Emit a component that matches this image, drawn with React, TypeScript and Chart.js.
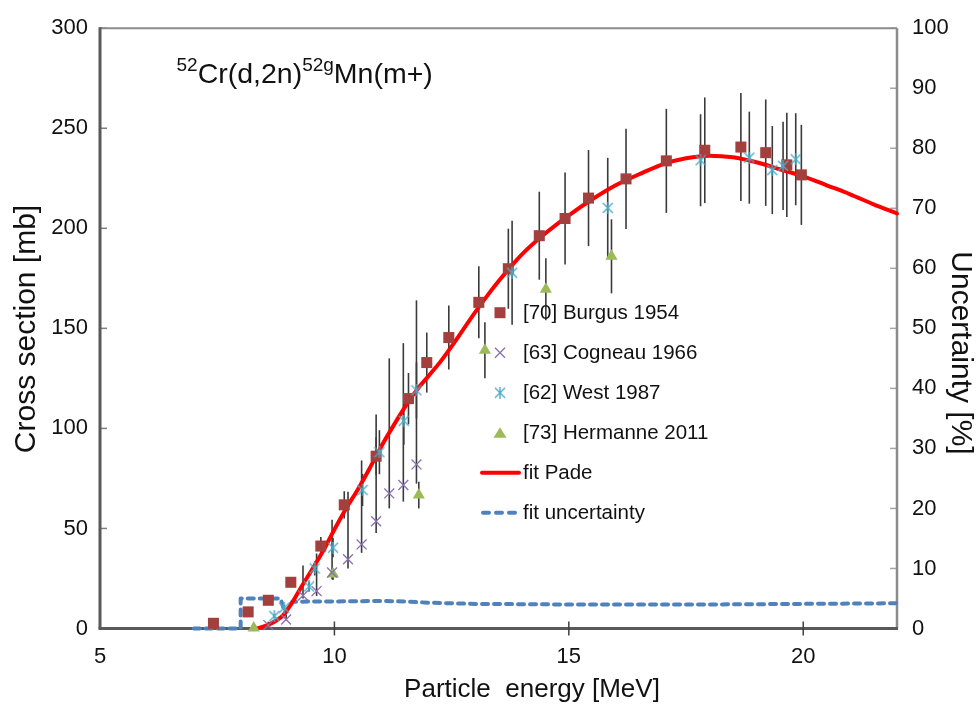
import React, { useEffect, useRef } from 'react';
import { Chart, registerables } from 'chart.js';

Chart.register(...registerables);

// ---------- data ----------
const burgusE = [7.42, 8.16, 8.59, 9.07, 9.71, 10.21, 10.89, 11.58, 11.97, 12.44, 13.08, 13.71, 14.37, 14.92, 15.42, 16.22, 17.08, 17.9, 18.67, 19.2, 19.65, 19.96];
const burgusXS = [2.6, 8.3, 14.1, 23.1, 41.2, 61.8, 86.1, 114.9, 132.9, 145.4, 163.0, 179.8, 196.3, 204.9, 215.1, 224.7, 233.7, 239.0, 240.6, 237.8, 231.7, 226.7];
const burgusErr = [0.3, 0.9, 1.6, 2.5, 4.5, 6.8, 9.5, 12.8, 15, 16, 18, 20, 22, 23, 24, 25, 26, 26.4, 27, 26.6, 26, 25];

const cogneauE = [8.59, 8.97, 9.33, 9.62, 9.95, 10.29, 10.58, 10.89, 11.17, 11.47, 11.75];
const cogneauXS = [1.7, 4.5, 16.5, 18.7, 28.0, 34.6, 42.0, 53.6, 67.5, 71.7, 82.0];
const cogneauErrLow = [0.2, 0.5, 1.5, 2.4, 3.4, 4.6, 4.2, 5.9, 7.5, 8.3, 9.6];
const cogneauErrHigh = [1.7, 4.5, 15, 18.8, 26.3, 33.7, 42, 53.4, 67.5, 70.9, 82];

const westE = [8.72, 8.93, 9.46, 9.58, 9.97, 10.6, 10.96, 11.48, 11.75, 13.79, 15.83, 17.81, 18.85, 19.34, 19.57, 19.84];
const westXS = [6.2, 10.4, 21.0, 30.0, 40.4, 69.2, 88.1, 103.8, 119.0, 177.8, 210.2, 234.0, 235.3, 229.1, 231.2, 234.5];
const westErr = [0.7, 1.2, 2.5, 3.5, 4.8, 8, 11, 12, 14, 26, 25, 23, 23, 22, 22, 23];

const hermanneE = [8.28, 9.97, 11.8, 13.21, 14.51, 15.91];
const hermanneXS = [0.3, 27.2, 66.7, 139.1, 169.5, 186.0];
const hermanneErr = [0, 3, 6.7, 14, 15.5, 18.5];

const padeE = [8.34, 8.6, 8.9, 9.1, 9.3, 9.55, 9.8, 10.0, 10.25, 10.5, 10.75, 11.0, 11.25, 11.5, 11.75, 12.0, 12.25, 12.5, 12.75, 13.0, 13.25, 13.5, 13.75, 14.0, 14.5, 15.0, 15.5, 16.0, 16.5, 17.0, 17.5, 18.0, 18.5, 19.0, 19.5, 20.0, 20.5, 21.0, 21.5, 22.0];
const padeXS = [0, 2, 6.5, 13, 21, 30.5, 40.5, 49.5, 60, 69.5, 80, 91, 101, 110.5, 119, 126, 133, 141, 149.5, 158, 166, 173.5, 180.5, 187, 197.5, 206.5, 214.5, 221.5, 227, 232, 235, 236.3, 235.5, 233, 229.5, 226, 221.5, 217, 212, 207.4];

const uncE = [7.0, 8.0, 8.0, 8.85, 8.95, 9.1, 9.5, 10, 10.5, 11, 11.5, 12, 12.5, 13, 14, 15, 16, 17, 18, 19, 20, 21, 22];
const uncPct = [0, 0, 5.0, 5.0, 2.5, 4.45, 4.5, 4.5, 4.55, 4.6, 4.5, 4.3, 4.2, 4.1, 4.05, 4.0, 4.0, 4.0, 4.0, 4.05, 4.1, 4.15, 4.2];

const legendLabels = ['[70] Burgus 1954', '[63] Cogneau 1966', '[62] West 1987', '[73] Hermanne 2011', 'fit Pade', 'fit uncertainty'];
const xTitle = 'Particle  energy [MeV]';
const yTitle = 'Cross section [mb]';
const y1Title = 'Uncertainty [%]';

// ---------- styles ----------
const FONT = '"Liberation Sans", Arial, Helvetica, sans-serif';
const C_BURGUS = '#A3403D';
const C_COGNEAU = '#8A70AE';
const C_WEST = '#4BACC6';
const C_HERMANNE = '#9BBB59';
const C_PADE = '#FF0000';
const C_UNC = '#4F81BD';
const TEXT = '#111111';

function pts(xs: number[], ys: number[]) {
  return xs.map((x, i) => ({ x, y: ys[i] }));
}

function makeAsterisk(color: string, size: number) {
  const c = document.createElement('canvas');
  c.width = size;
  c.height = size;
  const g = c.getContext('2d')!;
  g.strokeStyle = color;
  g.lineWidth = 1.4;
  const m = size / 2;
  const r = size / 2 - 1;
  g.beginPath();
  g.moveTo(m - r, m - r); g.lineTo(m + r, m + r);
  g.moveTo(m + r, m - r); g.lineTo(m - r, m + r);
  g.moveTo(m, 0); g.lineTo(m, size);
  g.stroke();
  return c;
}

export default function App() {
  const ref = useRef<HTMLCanvasElement>(null);

  useEffect(() => {
    const canvas = ref.current!;
    const asterisk = makeAsterisk(C_WEST, 12);

    const errorSeries = [
      { e: burgusE, v: burgusXS, lo: burgusErr, hi: burgusErr },
      { e: cogneauE, v: cogneauXS, lo: cogneauErrLow, hi: cogneauErrHigh },
      { e: westE, v: westXS, lo: westErr, hi: westErr },
      { e: hermanneE, v: hermanneXS, lo: hermanneErr, hi: hermanneErr },
    ];

    const framePlugin = {
      id: 'frame',
      beforeDatasetsDraw(chart: any) {
        const { ctx, chartArea: a, scales } = chart;
        ctx.save();
        ctx.lineCap = 'butt';
        ctx.strokeStyle = '#7f7f7f';
        ctx.lineWidth = 1.5;
        scales.y.ticks.forEach((t: any) => {
          const py = scales.y.getPixelForValue(t.value);
          ctx.beginPath(); ctx.moveTo(a.left, py); ctx.lineTo(a.left + 7, py); ctx.stroke();
        });
        ctx.strokeStyle = '#a6a6a6';
        scales.y1.ticks.forEach((t: any) => {
          const py = scales.y1.getPixelForValue(t.value);
          ctx.beginPath(); ctx.moveTo(a.right - 7, py); ctx.lineTo(a.right, py); ctx.stroke();
        });
        ctx.strokeStyle = '#8c8c8c';
        ctx.lineWidth = 2;
        ctx.beginPath(); ctx.moveTo(a.left, a.top); ctx.lineTo(a.right, a.top); ctx.stroke();
        ctx.lineWidth = 2.5;
        ctx.beginPath(); ctx.moveTo(a.right, a.top); ctx.lineTo(a.right, a.bottom); ctx.stroke();
        ctx.strokeStyle = '#595959';
        ctx.lineWidth = 3;
        ctx.beginPath(); ctx.moveTo(a.left, a.top - 1); ctx.lineTo(a.left, a.bottom); ctx.stroke();
        ctx.beginPath(); ctx.moveTo(a.left - 1.5, a.bottom); ctx.lineTo(a.right + 1, a.bottom); ctx.stroke();
        ctx.strokeStyle = '#404040';
        ctx.lineWidth = 1.5;
        scales.x.ticks.forEach((t: any) => {
          if (t.value === scales.x.min) return;
          const px = scales.x.getPixelForValue(t.value);
          ctx.beginPath(); ctx.moveTo(px, a.bottom - 7); ctx.lineTo(px, a.bottom + 7); ctx.stroke();
        });
        ctx.strokeStyle = '#3a3a3a';
        ctx.lineWidth = 1.6;
        errorSeries.forEach((s) => {
          s.e.forEach((e, i) => {
            const px = scales.x.getPixelForValue(e);
            const y1 = scales.y.getPixelForValue(s.v[i] - s.lo[i]);
            const y2 = scales.y.getPixelForValue(s.v[i] + s.hi[i]);
            ctx.beginPath(); ctx.moveTo(px, y1); ctx.lineTo(px, y2); ctx.stroke();
          });
        });
        ctx.restore();
      },
    };

    const overlayPlugin = {
      id: 'overlay',
      afterDraw(chart: any) {
        const { ctx } = chart;
        ctx.save();
        // axis titles
        ctx.fillStyle = TEXT;
        ctx.textAlign = 'center';
        ctx.textBaseline = 'middle';
        ctx.font = `26px ${FONT}`;
        ctx.fillText(xTitle, 532, 690);
        ctx.save();
        ctx.translate(27, 329);
        ctx.rotate(-Math.PI / 2);
        ctx.font = `30px ${FONT}`;
        ctx.fillText(yTitle, 0, 0);
        ctx.restore();
        ctx.save();
        ctx.translate(960, 353);
        ctx.rotate(Math.PI / 2);
        ctx.font = `30px ${FONT}`;
        ctx.fillText(y1Title, 0, 0);
        ctx.restore();
        // reaction title
        let x = 176.5;
        ctx.textBaseline = 'alphabetic';
        ctx.textAlign = 'left';
        const parts: [string, boolean][] = [['52', true], ['Cr(d,2n)', false], ['52g', true], ['Mn(m+)', false]];
        parts.forEach(([t, sup]) => {
          ctx.font = sup ? `19px ${FONT}` : `28.5px ${FONT}`;
          ctx.fillText(t, x, sup ? 70.5 : 83);
          x += ctx.measureText(t).width;
        });
        // legend
        const lx = 500;
        const tx = 523;
        const y0 = 312.7;
        const step = 40;
        ctx.font = `20.5px ${FONT}`;
        ctx.textBaseline = 'middle';
        legendLabels.forEach((lab, i) => {
          const y = y0 + i * step;
          if (i === 0) {
            ctx.fillStyle = C_BURGUS;
            ctx.fillRect(lx - 5.5, y - 5.5, 11, 11);
          } else if (i === 1) {
            ctx.strokeStyle = C_COGNEAU; ctx.lineWidth = 1.3;
            ctx.beginPath(); ctx.moveTo(lx - 5, y - 5); ctx.lineTo(lx + 5, y + 5); ctx.moveTo(lx + 5, y - 5); ctx.lineTo(lx - 5, y + 5); ctx.stroke();
          } else if (i === 2) {
            ctx.drawImage(asterisk, lx - 6, y - 6);
          } else if (i === 3) {
            ctx.fillStyle = C_HERMANNE;
            ctx.beginPath(); ctx.moveTo(lx, y - 5.5); ctx.lineTo(lx + 6.5, y + 5); ctx.lineTo(lx - 6.5, y + 5); ctx.closePath(); ctx.fill();
          } else if (i === 4) {
            ctx.strokeStyle = C_PADE; ctx.lineWidth = 4; ctx.lineCap = 'round';
            ctx.beginPath(); ctx.moveTo(482, y); ctx.lineTo(519, y); ctx.stroke();
          } else {
            ctx.strokeStyle = C_UNC; ctx.lineWidth = 4; ctx.lineCap = 'round';
            ctx.setLineDash([6, 7]);
            ctx.beginPath(); ctx.moveTo(483, y); ctx.lineTo(516, y); ctx.stroke();
            ctx.setLineDash([]);
          }
          ctx.fillStyle = TEXT;
          ctx.fillText(lab, tx, y + 1);
        });
        ctx.restore();
      },
    };

    const tickFont = { family: FONT, size: 22 };

    const chart = new Chart(canvas, {
      type: 'scatter',
      data: {
        datasets: [
          {
            label: legendLabels[2], data: pts(westE, westXS), yAxisID: 'y', order: 0,
            pointStyle: asterisk as any, pointRadius: 6, clip: false as any,
          },
          {
            label: legendLabels[1], data: pts(cogneauE, cogneauXS), yAxisID: 'y', order: 1,
            pointStyle: 'crossRot', pointRadius: 7, borderColor: C_COGNEAU, borderWidth: 1.3, clip: false as any,
          },
          {
            label: legendLabels[3], data: pts(hermanneE, hermanneXS), yAxisID: 'y', order: 2,
            pointStyle: 'triangle', pointRadius: 7, backgroundColor: C_HERMANNE, borderColor: C_HERMANNE, borderWidth: 0, clip: false as any,
          },
          {
            label: legendLabels[0], data: pts(burgusE, burgusXS), yAxisID: 'y', order: 3,
            pointStyle: 'rect', pointRadius: 7.8, backgroundColor: C_BURGUS, borderColor: C_BURGUS, borderWidth: 0, clip: false as any,
          },
          {
            label: legendLabels[4], data: pts(padeE, padeXS), yAxisID: 'y', order: 4,
            showLine: true, pointRadius: 0, borderColor: C_PADE, borderWidth: 4,
            cubicInterpolationMode: 'monotone', borderCapStyle: 'round', clip: false as any,
          },
          {
            label: legendLabels[5], data: pts(uncE, uncPct), yAxisID: 'y1', order: 5,
            showLine: true, pointRadius: 0, borderColor: C_UNC, borderWidth: 4,
            borderDash: [6, 6], borderCapStyle: 'round', borderJoinStyle: 'round', tension: 0, clip: false as any,
          },
        ] as any,
      },
      options: {
        responsive: false,
        animation: false,
        devicePixelRatio: 1,
        layout: { padding: { top: 21, left: 0, right: 0, bottom: 0 } },
        plugins: { legend: { display: false }, tooltip: { enabled: false } },
        scales: {
          x: {
            type: 'linear', position: 'bottom', min: 5, max: 22,
            afterFit: (s: any) => { s.height = 76.5; },
            grid: { display: false, drawTicks: false },
            border: { display: false },
            ticks: { stepSize: 5, includeBounds: false, padding: 15, font: tickFont, color: TEXT, maxRotation: 0, autoSkip: false },
          },
          y: {
            type: 'linear', position: 'left', min: 0, max: 300,
            afterFit: (s: any) => { s.width = 100; },
            grid: { display: false, drawTicks: false },
            border: { display: false },
            ticks: { stepSize: 50, padding: 12, font: tickFont, color: TEXT },
          },
          y1: {
            type: 'linear', position: 'right', min: 0, max: 100,
            afterFit: (s: any) => { s.width = 79; },
            grid: { display: false, drawTicks: false },
            border: { display: false },
            ticks: { stepSize: 10, padding: 15, font: tickFont, color: TEXT },
          },
        },
      } as any,
      plugins: [framePlugin, overlayPlugin],
    });
    return () => chart.destroy();
  }, []);

  return (
    <div style={{ position: 'absolute', left: 0, top: 0, width: 976, height: 705, background: '#ffffff' }}>
      <canvas ref={ref} width={976} height={705} style={{ display: 'block', width: 976, height: 705 }} />
    </div>
  );
}
